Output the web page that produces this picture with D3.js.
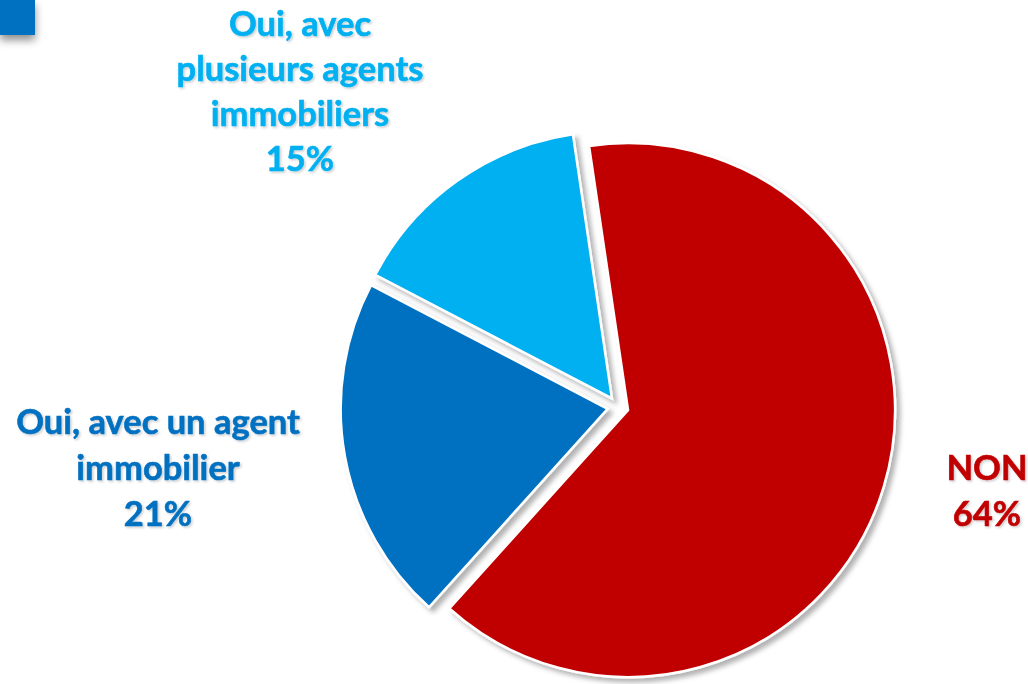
<!DOCTYPE html>
<html><head><meta charset="utf-8">
<script src="https://cdn.jsdelivr.net/npm/d3@7"></script>
<style>body{margin:0;background:#fff;}svg{display:block;}</style>
</head><body>
<svg id="c" width="1028" height="684"></svg>
<script>
const categories = ["NON", "Oui, avec un agent immobilier", "Oui, avec plusieurs agents immobiliers"];
const values = [64, 21, 15];
const labelLines = [["NON", "64%"], ["Oui, avec un agent", "immobilier", "21%"], ["Oui, avec", "plusieurs agents", "immobiliers", "15%"]];
const colors = ["#C00000", "#0070C0", "#00B0F0"];

const svg = d3.select("#c");
const defs = svg.append("defs");
const f = defs.append("filter").attr("id","sh").attr("x","-20%").attr("y","-20%").attr("width","140%").attr("height","140%");
f.append("feDropShadow").attr("dx",4).attr("dy",4).attr("stdDeviation",2.5).attr("flood-color","#000").attr("flood-opacity",0.3);
const ft = defs.append("filter").attr("id","tsh").attr("x","-10%").attr("y","-10%").attr("width","120%").attr("height","130%");
ft.append("feDropShadow").attr("dx",1.5).attr("dy",1.5).attr("stdDeviation",1).attr("flood-color","#000").attr("flood-opacity",0.2);
const fs = defs.append("filter").attr("id","sq").attr("x","-20%").attr("y","-20%").attr("width","160%").attr("height","200%");
fs.append("feDropShadow").attr("dx",0).attr("dy",5).attr("stdDeviation",4).attr("flood-color","#000").attr("flood-opacity",0.45);

svg.append("rect").attr("x",0).attr("y",0).attr("width",35).attr("height",35).attr("fill","#0070C0").attr("filter","url(#sq)");

const cx = 618, cy = 407, r = 267, explode = 10.5;
const start = -8.4 * Math.PI / 180;
const pie = d3.pie().sort(null).startAngle(start).endAngle(start + 2*Math.PI);
const arcs = pie(values);
const arc = d3.arc().innerRadius(0).outerRadius(r);

const g = svg.append("g").attr("transform", `translate(${cx},${cy})`);
g.selectAll("path").data(arcs).join("path")
  .attr("d", arc)
  .attr("fill", (d,i) => colors[i])
  .attr("stroke", "#fff").attr("stroke-width", 2.5).attr("stroke-linejoin","miter")
  .attr("filter", "url(#sh)")
  .attr("transform", d => {
    const a = (d.startAngle + d.endAngle)/2;
    return `translate(${explode*Math.sin(a)},${-explode*Math.cos(a)})`;
  });

const labelPos = [[987, 466], [158, 420], [300, 22]];
const lh = 46;
arcs.forEach((d,i) => {
  const t = svg.append("text")
    .attr("text-anchor","middle")
    .attr("font-family","Lato, 'Open Sans', sans-serif")
    .attr("font-weight","bold").attr("font-size", 34.5)
    .attr("stroke", colors[i]).attr("stroke-width", 0.6)
    .attr("fill", colors[i]).attr("filter","url(#tsh)");
  labelLines[i].forEach((ln, k) => {
    t.append("tspan").attr("x", labelPos[i][0]).attr("y", labelPos[i][1] + k*(i===2?45:lh))
      .attr("dominant-baseline","central").text(ln);
  });
});
</script>
</body></html>
